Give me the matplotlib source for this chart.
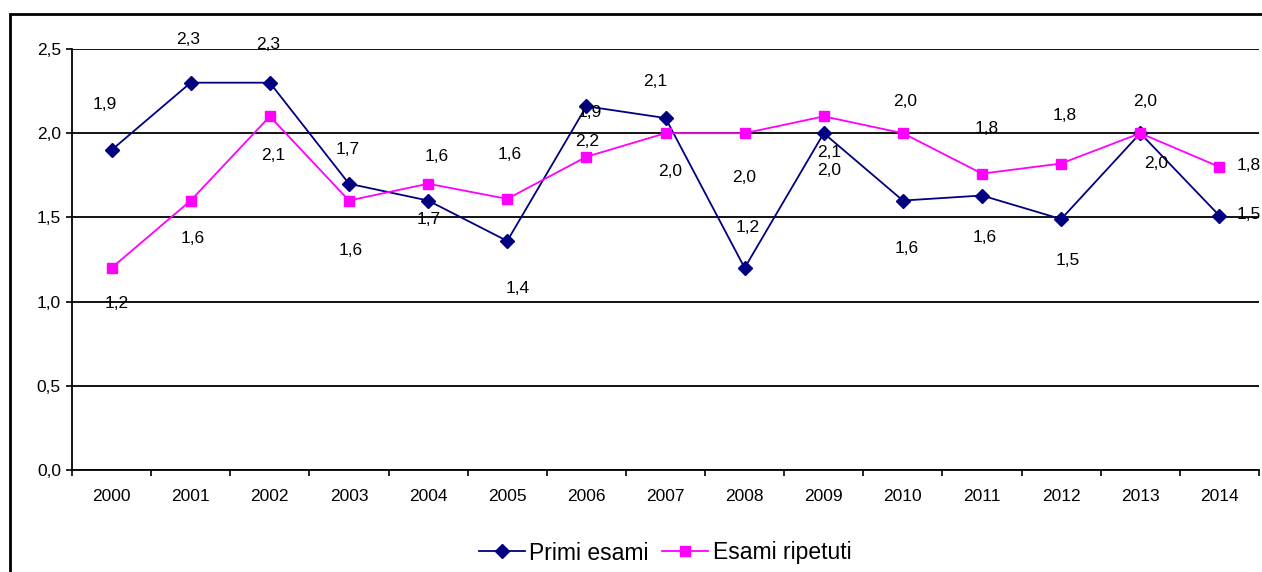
import matplotlib.pyplot as plt
from matplotlib.patches import Rectangle

plt.rcParams['font.family'] = ['Liberation Sans', 'DejaVu Sans']

anni = ['2000', '2001', '2002', '2003', '2004', '2005', '2006', '2007',
        '2008', '2009', '2010', '2011', '2012', '2013', '2014']
primi_esami = [1.9, 2.3, 2.3, 1.7, 1.6, 1.36, 2.16, 2.09, 1.2, 2.0, 1.6, 1.63, 1.49, 2.0, 1.51]
esami_ripetuti = [1.2, 1.6, 2.1, 1.6, 1.7, 1.61, 1.86, 2.0, 2.0, 2.1, 2.0, 1.76, 1.82, 2.0, 1.8]

# label offsets in pixels (dx, dy) - as placed in the original
off_primi = [(-7, 46), (-3, 43), (-2, 38), (-1, 34), (9, 44), (10, -48), (1, -35), (-10, 37),
             (3, 40), (5, -37), (4, -48), (3, -42), (7, -41), (16, -30), (29, 1)]
off_rip = [(5, -36), (2, -38), (3, -39), (2, -50), (1, -36), (2, 44), (3, 44), (5, -38),
           (-1, -44), (5, -36), (2, 32), (5, 45), (4, 48), (5, 32), (29, 1)]

fig = plt.figure(figsize=(12.62, 5.72), dpi=100)
ax = fig.add_axes([72/1262, 1-470/572, 1187/1262, 421/572])

x = list(range(len(anni)))
ax.plot(x, primi_esami, color='#000080', marker='D', markersize=7, lw=1.3, label='Primi esami')
ax.plot(x, esami_ripetuti, color='#FF00FF', marker='s', markersize=7.5, lw=1.3, label='Esami ripetuti')

for i in x:
    ax.annotate(f'{primi_esami[i]:.1f}'.replace('.', ','), (i, primi_esami[i]),
                xytext=off_primi[i], textcoords='offset pixels',
                ha='center', va='center', fontsize=12.5)
    ax.annotate(f'{esami_ripetuti[i]:.1f}'.replace('.', ','), (i, esami_ripetuti[i]),
                xytext=off_rip[i], textcoords='offset pixels',
                ha='center', va='center', fontsize=12.5)

ax.set_xlim(-0.5, len(anni) - 0.5)
ax.set_ylim(0, 2.5)
ax.set_yticks([0, 0.5, 1.0, 1.5, 2.0, 2.5])
ax.set_yticklabels(['0,0', '0,5', '1,0', '1,5', '2,0', '2,5'])
ax.set_xticks(x)
ax.set_xticklabels(anni)
ax.set_xticks([i - 0.5 for i in range(len(anni) + 1)], minor=True)
ax.tick_params(axis='x', which='major', length=0, pad=14, labelsize=12.5)
ax.tick_params(axis='x', which='minor', length=4, width=1.2, direction='out')
ax.tick_params(axis='y', length=4, width=1.2, pad=4, labelsize=12.5)
ax.yaxis.grid(True, color='black', lw=1.3)
ax.set_axisbelow(True)
for s in ['top', 'right']:
    ax.spines[s].set_visible(False)
for s in ['left', 'bottom']:
    ax.spines[s].set_linewidth(1.3)

fig.legend(loc='center', bbox_to_anchor=(0.527, 1-553/572), ncol=2, frameon=False,
           fontsize=16.5, handlelength=2.0, handletextpad=0.2, columnspacing=0.6)

fig.patches.append(Rectangle((10/1262, -0.1), 1.2, 1-14/572+0.1, transform=fig.transFigure,
                             fill=False, edgecolor='black', lw=2))

fig.savefig('out.png', dpi=100)
